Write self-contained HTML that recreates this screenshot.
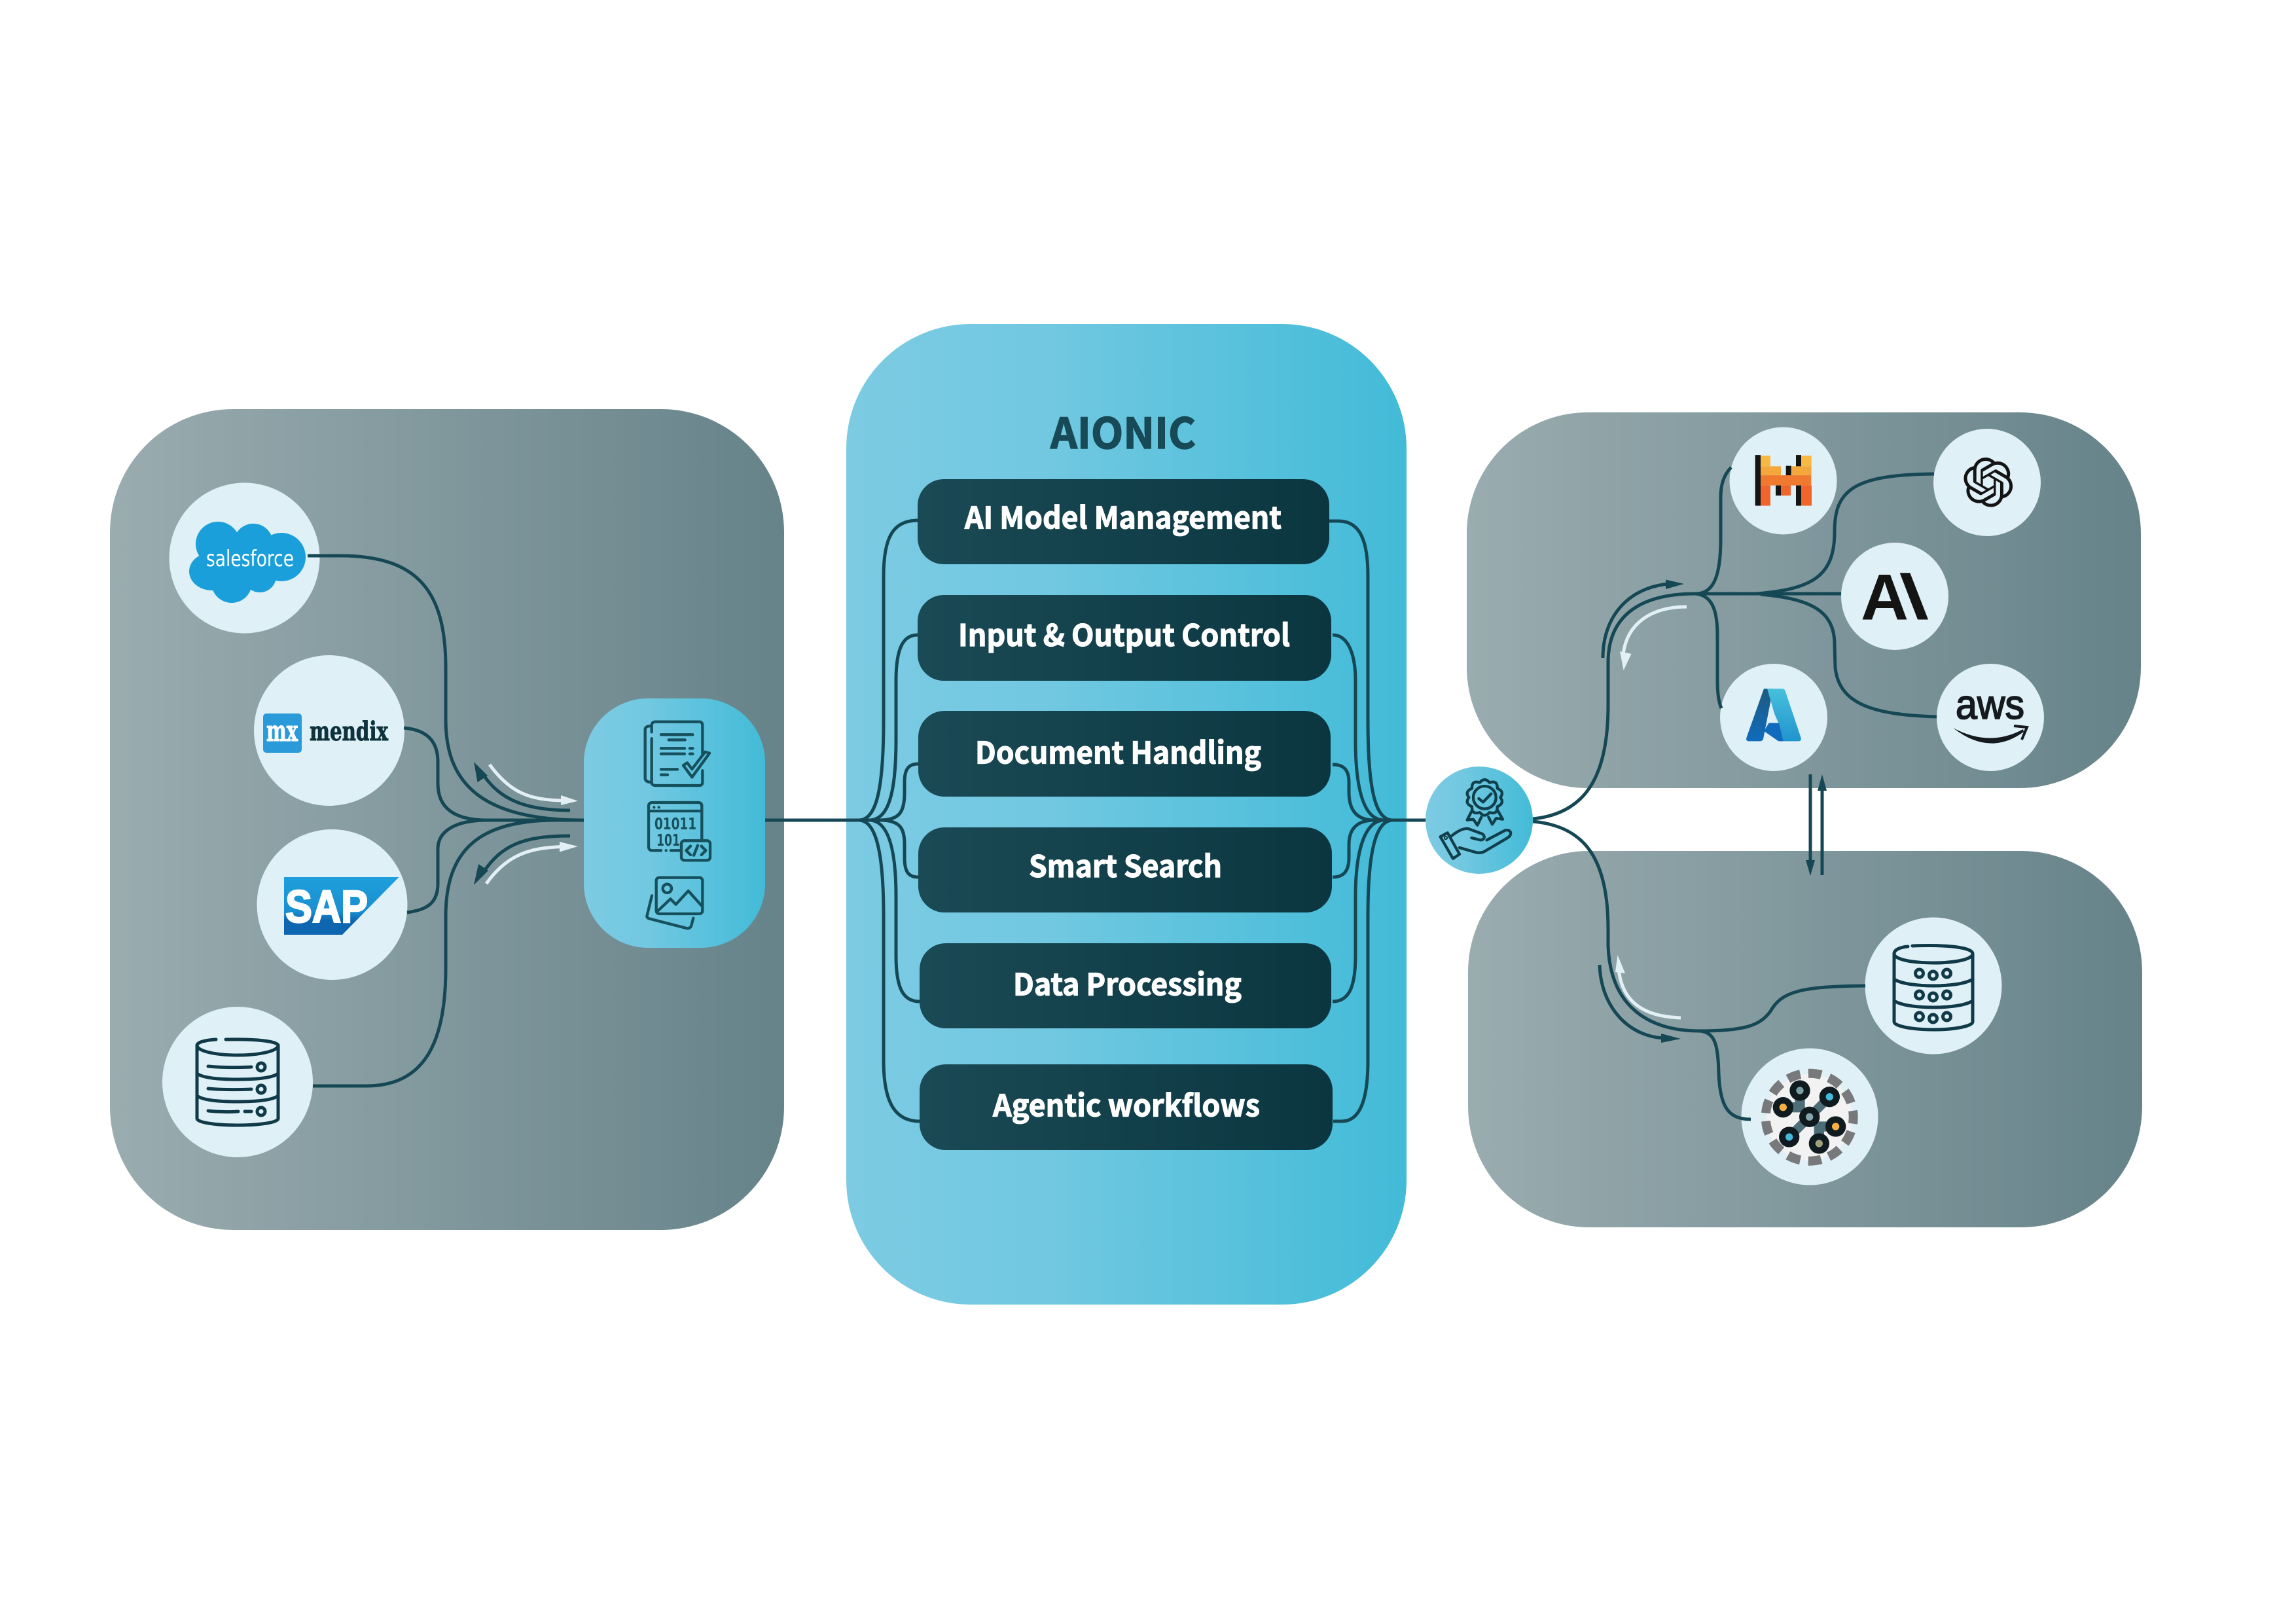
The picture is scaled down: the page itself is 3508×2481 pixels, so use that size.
<!DOCTYPE html>
<html lang="en">
<head>
<meta charset="utf-8">
<title>AIONIC diagram</title>
<style>
html,body{margin:0;padding:0;background:#fff}
svg{display:block}
.l{fill:none;stroke:#154854;stroke-width:5;stroke-linecap:butt}
.w{fill:none;stroke:#e2f0f5;stroke-width:5}
.c{fill:#dff0f7}
.b{fill:url(#btn)}
.t{font-family:"Noto Sans CJK JP","Liberation Sans",sans-serif;font-weight:700;font-size:46px;fill:#fff;stroke:#fff;stroke-width:1.2px}
.ic{fill:none;stroke:#16505c;stroke-width:13;stroke-linecap:round;stroke-linejoin:round}
.db{fill:none;stroke:#103a47;stroke-width:5;stroke-linecap:round;stroke-linejoin:round}
</style>
</head>
<body>
<svg xmlns="http://www.w3.org/2000/svg" width="3508" height="2481" viewBox="0 0 3508 2481">
<defs>
<linearGradient id="gray" x1="0" y1="0" x2="1" y2="0"><stop offset="0" stop-color="#9aacaf"/><stop offset="1" stop-color="#66838a"/></linearGradient>
<linearGradient id="blue" x1="0" y1="0" x2="1" y2="0"><stop offset="0" stop-color="#7ccbe3"/><stop offset="0.35" stop-color="#72c8e1"/><stop offset="1" stop-color="#42bbd8"/></linearGradient>
<linearGradient id="btn" x1="0" y1="0" x2="1" y2="0"><stop offset="0" stop-color="#1a4a55"/><stop offset="1" stop-color="#0b3640"/></linearGradient>
<linearGradient id="sap" x1="0" y1="0" x2="0" y2="1"><stop offset="0" stop-color="#1e9fdc"/><stop offset="0.6" stop-color="#1a8fd0"/><stop offset="0.75" stop-color="#0e66b0"/><stop offset="1" stop-color="#0e66b0"/></linearGradient>
<linearGradient id="azl" x1="0" y1="0" x2="0" y2="1"><stop offset="0" stop-color="#1d5a80"/><stop offset="1" stop-color="#0f6cbd"/></linearGradient>
<linearGradient id="azr" x1="0" y1="0" x2="0" y2="1"><stop offset="0" stop-color="#47c0dc"/><stop offset="1" stop-color="#2194cf"/></linearGradient>
</defs>

<!-- Panels -->
<rect x="168" y="625" width="1030" height="1254" rx="188" fill="url(#gray)"/>
<rect x="1293" y="495" width="856" height="1498" rx="190" fill="url(#blue)"/>
<rect x="2241" y="630" width="1030" height="574" rx="185" fill="url(#gray)"/>
<rect x="2243" y="1300" width="1030" height="575" rx="185" fill="url(#gray)"/>
<rect x="892" y="1067" width="277" height="381" rx="98" fill="url(#blue)"/>
<circle cx="2260" cy="1253" r="82" fill="url(#blue)"/>

<!-- Left circles -->
<circle class="c" cx="373.5" cy="852.5" r="115"/>
<circle class="c" cx="503" cy="1116" r="115"/>
<circle class="c" cx="507.5" cy="1382" r="115"/>
<circle class="c" cx="363" cy="1653" r="115"/>
<!-- Right circles -->
<circle class="c" cx="2724.5" cy="734.5" r="82"/>
<circle class="c" cx="3036" cy="737" r="82"/>
<circle class="c" cx="2895" cy="911" r="82"/>
<circle class="c" cx="2710" cy="1096" r="82"/>
<circle class="c" cx="3041" cy="1096" r="82"/>
<circle class="c" cx="2954" cy="1506" r="104.5"/>
<circle class="c" cx="2765" cy="1706" r="104.5"/>

<!-- Title and buttons -->
<text x="1605" y="685" textLength="222" lengthAdjust="spacingAndGlyphs" font-family="'Noto Sans CJK JP','Liberation Sans',sans-serif" font-weight="700" font-size="64" fill="#174a56" stroke="#174a56" stroke-width="1.5">AIONIC</text>
<rect class="b" x="1402" y="732" width="629" height="130" rx="40"/>
<rect class="b" x="1402" y="909" width="632" height="131" rx="40"/>
<rect class="b" x="1403" y="1086" width="630" height="131" rx="40"/>
<rect class="b" x="1403" y="1264" width="632" height="130" rx="40"/>
<rect class="b" x="1405" y="1441" width="629" height="130" rx="40"/>
<rect class="b" x="1405" y="1626" width="631" height="131" rx="40"/>
<text class="t" x="1474" y="807.5" textLength="484" lengthAdjust="spacingAndGlyphs">AI Model Management</text>
<text class="t" x="1464" y="987" textLength="507" lengthAdjust="spacingAndGlyphs">Input &amp; Output Control</text>
<text class="t" x="1490" y="1166.5" textLength="437" lengthAdjust="spacingAndGlyphs">Document Handling</text>
<text class="t" x="1572" y="1340" textLength="295" lengthAdjust="spacingAndGlyphs">Smart Search</text>
<text class="t" x="1548" y="1520.5" textLength="349" lengthAdjust="spacingAndGlyphs">Data Processing</text>
<text class="t" x="1517" y="1705.5" textLength="408" lengthAdjust="spacingAndGlyphs">Agentic workflows</text>

<!-- Connectors: left cluster -->
<path class="l" d="M470 849 L520 849 C640 849 681 905 681 1020 L681 1100 C681 1200 740 1253 892 1253"/>
<path class="l" d="M617 1112 C650 1115 669 1130 669 1164 L669 1197 C669 1235 695 1253 745 1253 L892 1253"/>
<path class="l" d="M622 1394 C652 1390 669 1380 669 1350 L669 1297 C669 1270 695 1253 745 1253"/>
<path class="l" d="M478 1659 L560 1659 C650 1659 681 1590 681 1480 L681 1400 C681 1300 730 1253 850 1253"/>
<path class="l" d="M1169 1253 L1312 1253"/>
<!-- Left arrows -->
<path class="l" d="M871 1238 C800 1238 760 1220 735 1178"/>
<polygon points="724,1164 745,1185 729.5,1195" fill="#154854"/>
<path class="w" d="M748 1168 C780 1212 810 1222 860 1223"/>
<polygon points="883,1223.6 857,1215 857,1230" fill="#e2f0f5"/>
<path class="l" d="M871 1277 C800 1277 765 1290 735 1338"/>
<polygon points="724,1352 746,1330 731,1320" fill="#154854"/>
<path class="w" d="M743 1350 C775 1305 810 1295 860 1293.5"/>
<polygon points="883,1293 855,1286 855,1301.5" fill="#e2f0f5"/>

<!-- Connectors: center -->
<path class="l" d="M1312 1253 C1338 1253 1350 1210 1350 1100 L1350 880 C1350 820 1365 795 1402 795"/>
<path class="l" d="M1328 1253 C1358 1253 1369 1210 1369 1130 L1369 1040 C1369 990 1380 970 1402 970"/>
<path class="l" d="M1300 1253 L1344 1253 C1375 1253 1382 1240 1382 1210 L1382 1195 C1382 1175 1388 1167 1403 1167"/>
<path class="l" d="M1344 1253 C1375 1253 1382 1265 1382 1290 L1382 1310 C1382 1332 1388 1340 1403 1340"/>
<path class="l" d="M1328 1253 C1358 1253 1369 1300 1369 1370 L1369 1460 C1369 1510 1380 1530 1405 1530"/>
<path class="l" d="M1312 1253 C1338 1253 1350 1300 1350 1400 L1350 1620 C1350 1680 1365 1713 1405 1713"/>
<path class="l" d="M2031 796 L2045 796 C2080 796 2090 830 2090 880 L2090 1100 C2090 1210 2102 1253 2128 1253"/>
<path class="l" d="M2036 970 C2060 970 2071 1000 2071 1040 L2071 1130 C2071 1210 2085 1253 2115 1253"/>
<path class="l" d="M2036 1168 C2052 1168 2061 1175 2061 1195 L2061 1210 C2061 1240 2075 1253 2100 1253"/>
<path class="l" d="M2036 1340 C2052 1340 2061 1332 2061 1310 L2061 1290 C2061 1265 2075 1253 2100 1253"/>
<path class="l" d="M2036 1530 C2060 1530 2071 1510 2071 1460 L2071 1370 C2071 1300 2085 1253 2115 1253"/>
<path class="l" d="M2037 1713 L2050 1713 C2078 1713 2090 1680 2090 1620 L2090 1400 C2090 1300 2102 1253 2128 1253"/>
<path class="l" d="M2100 1253 L2178 1253"/>

<!-- Connectors: right top -->
<path class="l" d="M2342 1251 C2420 1243 2457 1190 2457 1077 L2457 1012 C2457 945 2500 907 2591 907 L2813 907"/>
<path class="l" d="M2591 907 C2618 907 2629 880 2629 824 L2629 759 C2629 740 2634 725 2645 714"/>
<path class="l" d="M2591 907 C2615 910 2624 930 2624 971 L2624 1036 C2624 1055 2625 1070 2630 1082"/>
<path class="l" d="M2683 907 C2770 900 2803 880 2803 812 C2803 750 2830 725 2955 724"/>
<path class="l" d="M2690 908 C2770 915 2803 935 2803 985 L2804 1020 C2810 1075 2860 1092 2959 1095"/>
<path class="l" d="M2449 1005 C2449 940 2490 897 2550 892"/>
<polygon points="2573,892 2545,885.5 2545,900" fill="#154854"/>
<path class="w" d="M2577 927 C2520 927 2485 955 2480 1000"/>
<polygon points="2480.6,1024 2475,995 2492.5,999" fill="#e2f0f5"/>
<!-- Vertical arrows -->
<path class="l" d="M2766 1183 L2766 1318"/>
<polygon points="2766,1338 2759,1314 2773,1314" fill="#154854"/>
<path class="l" d="M2784 1337 L2784 1203"/>
<polygon points="2784,1183 2777,1208 2791,1208" fill="#154854"/>
<!-- Connectors: right bottom -->
<path class="l" d="M2342 1255 C2420 1262 2457 1310 2457 1420 L2457 1445 C2460 1530 2510 1575 2598 1575"/>
<path class="l" d="M2598 1575 C2670 1575 2690 1565 2705 1545 C2722 1515 2750 1507 2850 1506"/>
<path class="l" d="M2598 1575 C2620 1578 2625 1595 2626 1640 C2628 1690 2640 1710 2675 1710"/>
<path class="l" d="M2444 1474 C2446 1540 2490 1585 2545 1586"/>
<polygon points="2568,1587 2538,1579 2538,1593" fill="#154854"/>
<path class="w" d="M2568 1555 C2510 1553 2478 1530 2473 1480"/>
<polygon points="2471.5,1459 2468,1485 2483,1487" fill="#e2f0f5"/>

<!-- Salesforce -->
<g fill="#1a9fdb">
<circle cx="333" cy="831" r="34"/><circle cx="387" cy="830" r="30"/><circle cx="430" cy="851" r="37"/>
<ellipse cx="324" cy="873" rx="35" ry="29"/><circle cx="354" cy="890" r="31"/><circle cx="397" cy="880" r="25"/>
<rect x="320" y="830" width="115" height="55"/>
</g>
<text x="315" y="865" textLength="134" lengthAdjust="spacingAndGlyphs" font-family="'DejaVu Sans','Liberation Sans',sans-serif" font-size="34" fill="#fff">salesforce</text>

<!-- Mendix -->
<rect x="402" y="1090" width="59" height="60" rx="5" fill="#2a9bd8"/>
<text x="407" y="1132" textLength="48" lengthAdjust="spacingAndGlyphs" font-family="'DejaVu Serif','Liberation Serif',serif" font-weight="700" font-size="44" fill="#fff" stroke="#fff" stroke-width="1">mx</text>
<text x="473" y="1131" textLength="120" lengthAdjust="spacingAndGlyphs" font-family="'DejaVu Serif','Liberation Serif',serif" font-weight="700" font-size="40" fill="#0f333d" stroke="#0f333d" stroke-width="1">mendix</text>

<!-- SAP -->
<polygon points="434,1340 609.5,1340 523,1428 434,1428" fill="url(#sap)"/>
<text x="436" y="1409" textLength="126" lengthAdjust="spacingAndGlyphs" font-family="'Liberation Sans',sans-serif" font-weight="700" font-size="70" fill="#fff" stroke="#fff" stroke-width="2.5">SAP</text>

<!-- DB left -->
<g class="db">
<path d="M345 1588 C400 1587 425 1592 425 1597 C425 1606 395 1612 363 1612 C331 1612 301 1606 301 1597 C301 1592 315 1589 330 1588"/>
<path d="M301 1597 L301 1709 C301 1715 331 1719 363 1719 C395 1719 425 1715 425 1709 L425 1597"/>
<path d="M301 1640 C310 1647 335 1649 363 1649 C391 1649 416 1647 425 1640"/>
<path d="M301 1674 C310 1681 335 1683 363 1683 C391 1683 416 1681 425 1674"/>
<path d="M318 1629 C340 1631 360 1631 384 1630 M318 1663 C340 1665 360 1665 384 1664 M318 1697 C335 1699 350 1699 364 1698 M374 1698 L384 1698"/>
<circle cx="399" cy="1630" r="6"/><circle cx="399" cy="1664" r="6"/><circle cx="399" cy="1698" r="6"/>
</g>

<!-- Small panel icons -->
<g transform="translate(930 1090) scale(.33333)" class="ic">
<path d="M197 85 L197 55 Q197 38 215 38 L415 38 Q430 38 430 55 L430 185 M430 262 L430 315 Q430 330 415 330 L215 330 Q197 330 197 315 L197 115"/>
<path d="M197 58 Q167 55 167 75 L167 295 Q167 315 197 315"/>
<path d="M240 97 L385 97 M275 121 L350 121 M240 160 L348 160 M372 160 L385 160 M240 185 L348 185 M372 185 L385 185 M240 256 L315 256 M240 281 L270 281"/>
<path d="M342 238 L382 292 L462 182 L442 176 L382 255 L360 226 Z"/>
<path d="M240 628 L200 628 Q183 628 183 610 L183 425 Q183 408 200 408 L410 408 Q427 408 427 425 L427 580 M285 628 L333 628 M263 628 L263 628 M183 447 L427 447 M208 430 L208 430 M230 430 L230 430"/>
<rect x="333" y="583" width="132" height="90" rx="14"/>
<path d="M375 608 L355 628 L375 648 M425 608 L445 628 L425 648 M408 605 L390 650"/>
<rect x="218" y="752" width="212" height="166" rx="14"/>
<circle cx="268" cy="802" r="20"/>
<path d="M222 908 L283 850 L308 875 L365 813 L425 880"/>
<path d="M198 835 L176 925 Q172 935 185 940 L360 985 Q372 985 378 975 L388 938"/>
</g>
<g font-family="'DejaVu Sans','Liberation Sans',sans-serif" font-weight="700" fill="#16505c">
<text x="1000" y="1267" textLength="64" lengthAdjust="spacingAndGlyphs" font-size="25">01011</text>
<text x="1003" y="1292" textLength="36" lengthAdjust="spacingAndGlyphs" font-size="25">101</text>
</g>

<!-- Medal icon -->
<g transform="translate(2180 1170) scale(.33333)" fill="none" stroke="#103f4c" stroke-width="13" stroke-linecap="round" stroke-linejoin="round">
<path d="M243 76.5 Q265 50 287 76.5 Q325 65 323 103 Q358 118 337 145 Q358 172 323 187 Q325 225 287 213.5 Q265 240 243 213.5 Q205 225 207 187 Q172 172 193 145 Q172 118 207 103 Q205 65 243 76.5 Z"/>
<circle cx="265" cy="145" r="52"/>
<path d="M238 150 L258 166 L295 128"/>
<path d="M207 205 L185 248 L213 245 L232 272 L250 235 M283 235 L300 268 L318 240 L348 245 L325 205"/>
<path d="M62 325 L95 307 L150 405 L120 425 Z"/>
<path d="M112 322 C140 300 165 285 190 288 L255 312 C270 325 262 340 245 340 L205 330 M275 340 L360 295 C385 290 395 315 370 330 L265 392 C250 400 235 400 220 395 L150 375"/>
<circle cx="87" cy="330" r="3"/>
</g>

<!-- Mistral -->
<g transform="translate(2640 640) scale(.33333 .34435)">
<rect x="150" y="163" width="45" height="47" fill="#f7b844"/>
<rect x="335" y="163" width="48" height="47" fill="#f7b844"/>
<rect x="150" y="210" width="93" height="40" fill="#f4a83c"/>
<rect x="290" y="210" width="93" height="40" fill="#f4a83c"/>
<rect x="150" y="250" width="232" height="45" fill="#ef7a2f"/>
<rect x="150" y="295" width="45" height="90" fill="#ef652c"/>
<rect x="243" y="295" width="45" height="45" fill="#ef652c"/>
<rect x="336" y="295" width="48" height="90" fill="#ef652c"/>
<rect x="125" y="160" width="25" height="225" fill="#141414"/>
<rect x="312" y="160" width="24" height="50" fill="#141414"/>
<rect x="312" y="295" width="24" height="90" fill="#141414"/>
<rect x="266" y="208" width="24" height="42" fill="#141414"/>
<rect x="219" y="295" width="24" height="45" fill="#141414"/>
</g>

<!-- OpenAI -->
<path transform="translate(3000 699) scale(3.15)" fill="#141414" d="M22.2819 9.8211a5.9847 5.9847 0 0 0-.5157-4.9108 6.0462 6.0462 0 0 0-6.5098-2.9A6.0651 6.0651 0 0 0 4.9807 4.1818a5.9847 5.9847 0 0 0-3.9977 2.9 6.0462 6.0462 0 0 0 .7427 7.0966 5.98 5.98 0 0 0 .511 4.9107 6.051 6.051 0 0 0 6.5146 2.9001A5.9847 5.9847 0 0 0 13.2599 24a6.0557 6.0557 0 0 0 5.7718-4.2058 5.9894 5.9894 0 0 0 3.9977-2.9001 6.0557 6.0557 0 0 0-.7475-7.0729zm-9.022 12.6081a4.4755 4.4755 0 0 1-2.8764-1.0408l.1419-.0804 4.7783-2.7582a.7948.7948 0 0 0 .3927-.6813v-6.7369l2.02 1.1686a.071.071 0 0 1 .038.052v5.5826a4.504 4.504 0 0 1-4.4945 4.4944zm-9.6607-4.1254a4.4708 4.4708 0 0 1-.5346-3.0137l.142.0852 4.783 2.7582a.7712.7712 0 0 0 .7806 0l5.8428-3.3685v2.3324a.0804.0804 0 0 1-.0332.0615L9.74 19.9502a4.4992 4.4992 0 0 1-6.1408-1.6464zM2.3408 7.8956a4.485 4.485 0 0 1 2.3655-1.9728V11.6a.7664.7664 0 0 0 .3879.6765l5.8144 3.3543-2.0201 1.1685a.0757.0757 0 0 1-.071 0l-4.8303-2.7865A4.504 4.504 0 0 1 2.3408 7.872zm16.5963 3.8558L13.1038 8.364 15.1192 7.2a.0757.0757 0 0 1 .071 0l4.8303 2.7913a4.4944 4.4944 0 0 1-.6765 8.1042v-5.6772a.79.79 0 0 0-.407-.667zm2.0107-3.0231l-.142-.0852-4.7735-2.7818a.7759.7759 0 0 0-.7854 0L9.409 9.2297V6.8974a.0662.0662 0 0 1 .0284-.0615l4.8303-2.7866a4.4992 4.4992 0 0 1 6.6802 4.66zM8.3065 12.863l-2.02-1.1638a.0804.0804 0 0 1-.038-.0567V6.0742a4.4992 4.4992 0 0 1 7.3757-3.4537l-.142.0805L8.704 5.459a.7948.7948 0 0 0-.3927.6813zm1.0976-2.3654l2.602-1.4998 2.6069 1.4998v2.9994l-2.5974 1.4997-2.6067-1.4997Z"/>

<!-- Anthropic -->
<text x="2843" y="946.5" textLength="73" lengthAdjust="spacingAndGlyphs" font-family="'Liberation Sans',sans-serif" font-weight="700" font-size="99" fill="#141413">A</text>
<polygon points="2902.7,875.2 2918.3,875.2 2946,946.5 2930,946.5" fill="#141413"/>

<!-- Azure -->
<g transform="translate(2640 640) scale(.33333 .34435)">
<path d="M165 1197 L207 1197 L162 1420 Q158 1430 145 1430 L95 1430 Q80 1428 86 1412 Z" fill="url(#azl)"/>
<path d="M180 1197 L250 1197 Q260 1197 264 1210 L334 1412 Q340 1430 322 1430 L250 1430 Z" fill="url(#azr)"/>
<path d="M188 1349 L234 1349 L254 1430 L232 1430 L165 1385 Z" fill="#0f6cbd"/>
<path d="M205 1290 L190 1349 L232 1349 Z" fill="#dff0f7"/>
</g>

<!-- AWS -->
<text x="2988" y="1098" textLength="105" lengthAdjust="spacingAndGlyphs" font-family="'Liberation Sans',sans-serif" font-size="63" fill="#141a1e" stroke="#141a1e" stroke-width="1.8">aws</text>
<path d="M2984 1112 Q3040 1142 3091 1114 L3092 1118 Q3040 1156 2984 1112 Z" fill="#141a1e"/>
<path d="M3077 1109 L3097 1111 L3089 1130" fill="none" stroke="#141a1e" stroke-width="4"/>

<!-- DB right -->
<g class="db">
<path d="M2922 1445 C2980 1443 3014 1448 3014 1457 C3014 1466 2985 1471 2954 1471 C2923 1471 2894 1466 2894 1457 C2894 1451 2903 1447 2915 1446"/>
<path d="M2894 1457 L2894 1561 C2894 1568 2923 1573 2954 1573 C2985 1573 3014 1568 3014 1561 L3014 1457"/>
<path d="M2894 1496 C2905 1503 2930 1506 2954 1506 C2978 1506 3003 1503 3014 1496"/>
<path d="M2894 1529 C2905 1536 2930 1539 2954 1539 C2978 1539 3003 1536 3014 1529"/>
<circle cx="2932.5" cy="1487" r="6"/><circle cx="2953.5" cy="1490" r="6"/><circle cx="2974.5" cy="1487" r="6"/>
<circle cx="2932.5" cy="1520" r="6"/><circle cx="2953.5" cy="1523" r="6"/><circle cx="2974.5" cy="1520" r="6"/>
<circle cx="2932.5" cy="1553" r="6"/><circle cx="2953.5" cy="1556" r="6"/><circle cx="2974.5" cy="1553" r="6"/>
</g>

<!-- Cluster -->
<circle cx="2764.7" cy="1706.7" r="66" fill="#f2f2f2"/>
<circle cx="2764.7" cy="1706.7" r="67" fill="none" stroke="#77797b" stroke-width="14" stroke-dasharray="20 12.38" stroke-dashoffset="10"/>
<g transform="translate(2660 1590) scale(.33333)">
<path d="M406 257 L221 441" stroke="#4d6d77" stroke-width="42" fill="none"/>
<path d="M193 305 L270 305 L270 228 M434 393 L358 393 L358 471" stroke="#4d6d77" stroke-width="46" fill="none"/>
<g fill="#0f1b1f">
<circle cx="270" cy="228" r="47"/><circle cx="406" cy="257" r="47"/><circle cx="193" cy="305" r="47"/><circle cx="314" cy="349" r="47"/><circle cx="434" cy="393" r="47"/><circle cx="221" cy="441" r="47"/><circle cx="358" cy="471" r="47"/>
</g>
<circle cx="270" cy="228" r="17" fill="#7d9da5"/><circle cx="406" cy="257" r="17" fill="#45b8dc"/><circle cx="193" cy="305" r="17" fill="#f5b041"/><circle cx="314" cy="349" r="17" fill="#87a3ab"/><circle cx="434" cy="393" r="17" fill="#f5b041"/><circle cx="221" cy="441" r="17" fill="#45b8dc"/><circle cx="358" cy="471" r="17" fill="#a0a07a"/>
</g>
</svg>
</body>
</html>
